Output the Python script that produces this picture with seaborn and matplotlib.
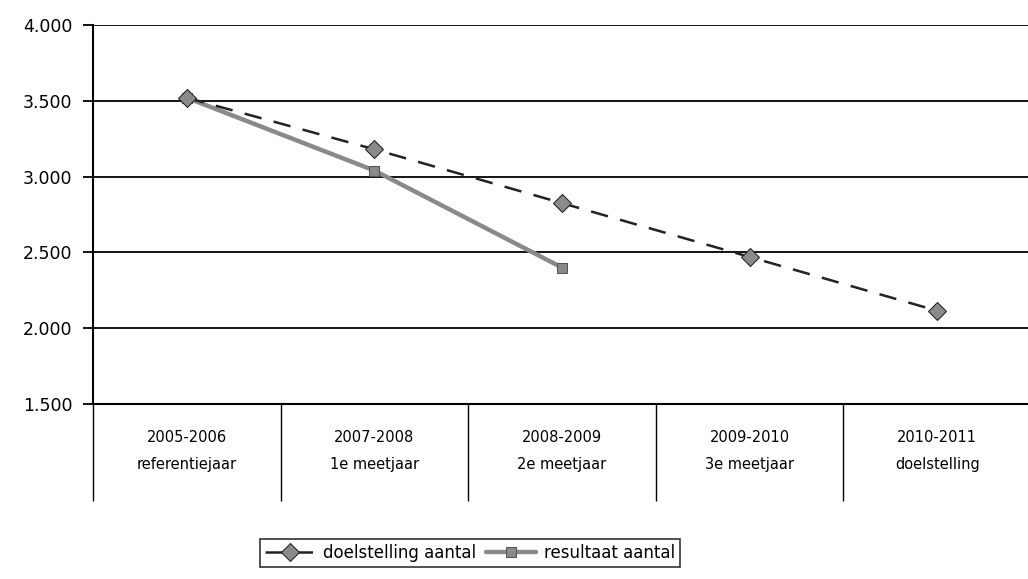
import numpy as np
import pandas as pd
import seaborn as sns
import matplotlib.pyplot as plt
from matplotlib.ticker import FuncFormatter, FixedLocator

# Data
periodes = ['2005-2006', '2007-2008', '2008-2009', '2009-2010', '2010-2011']
fases = ['referentiejaar', '1e meetjaar', '2e meetjaar', '3e meetjaar', 'doelstelling']
doelstelling = [3520, 3180, 2825, 2470, 2115]
resultaat = [3520, 3040, 2400]

sns.set_style('white')
plt.rcParams['font.family'] = ['DejaVu Sans']
plt.rcParams['text.color'] = 'black'

fig = plt.figure(figsize=(10.28, 5.79), dpi=100)
# right edge runs just past the canvas, like the cropped original
ax = fig.add_axes([93 / 1028, 1 - 404 / 579, 938 / 1028, 379 / 579])

pos = np.arange(len(periodes))
df_doel = pd.DataFrame({'x': pos, 'y': doelstelling})
df_res = pd.DataFrame({'x': pos[:len(resultaat)], 'y': resultaat})

sns.lineplot(data=df_res, x='x', y='y', ax=ax, color='#8a8a8a', linewidth=3.2,
             marker='s', markersize=7, markerfacecolor='#8a8a8a',
             markeredgecolor='#555555', label='resultaat aantal', zorder=3)
sns.lineplot(data=df_doel, x='x', y='y', ax=ax, color='#222222', linewidth=1.8,
             linestyle=(0, (7, 5)), marker='D', markersize=9,
             markerfacecolor='#8a8a8a', markeredgecolor='#222222',
             label='doelstelling aantal', zorder=4)

ax.set_xlim(-0.5, len(periodes) - 0.5)
ax.set_ylim(1500, 4000)
ax.set_yticks(np.arange(1500, 4001, 500))
ax.yaxis.set_major_formatter(FuncFormatter(lambda v, p: f'{int(v):,}'.replace(',', '.')))
ax.grid(axis='y', color='black', linewidth=1.3)
ax.set_axisbelow(True)

# category labels with separators between them
ax.set_xticks(pos)
ax.set_xticklabels([f'{a}\n{b}' for a, b in zip(periodes, fases)], linespacing=2.0)
ax.xaxis.set_minor_locator(FixedLocator(np.arange(-0.5, len(periodes) - 1, 1.0)))
ax.tick_params(axis='x', which='major', bottom=True, length=0, pad=19, labelsize=10.5,
               labelcolor='black')
ax.tick_params(axis='x', which='minor', bottom=True, length=70, width=1,
               color='black', direction='out')
ax.tick_params(axis='y', left=True, length=7, width=1.3, color='black', direction='out',
               labelsize=12.5, pad=8, labelcolor='black')

for s in ['top', 'right']:
    ax.spines[s].set_visible(False)
for s in ['left', 'bottom']:
    ax.spines[s].set_color('black')
    ax.spines[s].set_linewidth(1.5)

ax.set_xlabel('')
ax.set_ylabel('')

handles, labels = ax.get_legend_handles_labels()
ax.get_legend().remove()
order = [1, 0]
leg = fig.legend([handles[i] for i in order], [labels[i] for i in order],
                 loc='center', bbox_to_anchor=(470 / 1028, 1 - 553 / 579), ncol=2,
                 frameon=True, fancybox=False, edgecolor='black', fontsize=12,
                 handlelength=3, columnspacing=0.6, handletextpad=0.5,
                 borderpad=0.3, labelcolor='black')
leg.get_frame().set_linewidth(1.2)

fig.savefig('out.png', dpi=100)
